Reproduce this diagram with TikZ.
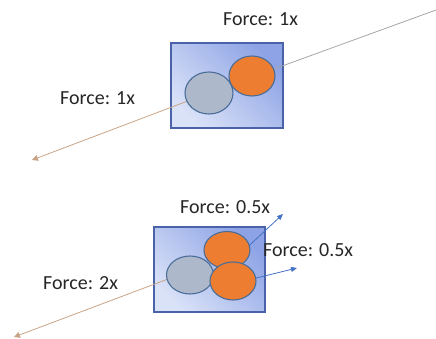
\documentclass[tikz,border=0pt]{standalone}
\usepackage{fontspec}
\setmainfont{Carlito}
\usetikzlibrary{arrows.meta,shapes.geometric}
\definecolor{boxlight}{HTML}{DAE2F8}
\definecolor{boxdark}{HTML}{8DA3E5}
\definecolor{boxborder}{HTML}{4A63A8}
\definecolor{ballgray}{HTML}{ADB9CA}
\definecolor{ballorange}{HTML}{ED7D31}
\definecolor{ballborder}{HTML}{4A6D98}
\definecolor{linegray}{HTML}{A6A6A6}
\definecolor{linetan}{HTML}{C9A487}
\definecolor{arrowblue}{HTML}{4472C4}
\definecolor{txt}{HTML}{262626}
\tikzset{
  boxstyle/.style={draw=boxborder, line width=1.1pt, top color=boxlight, bottom color=boxdark, shading angle=135},
  ball/.style={ellipse, draw=ballborder, line width=1.1pt, inner sep=0pt},
  grayball/.style={ball, fill=ballgray},
  orangeball/.style={ball, fill=ballorange},
  lbl/.style={anchor=base west, inner sep=0pt, font=\fontsize{20}{24}\selectfont, text=txt},
  tanarrow/.style={draw=linetan, line width=0.8pt, -{Triangle[length=6pt,width=6pt]}},
  grayline/.style={draw=linegray, line width=0.8pt},
  bluearrow/.style={draw=arrowblue, line width=0.8pt, -{Triangle[length=6pt,width=5pt]}},
}
\begin{document}
\begin{tikzpicture}[x=1pt,y=-1pt]
\useasboundingbox (0,0) rectangle (436,339);
% ---------- top scene ----------
\path[boxstyle] (171,43) rectangle (283,128);
\coordinate (t1) at (436,10);
\coordinate (t2) at (32,160);
\coordinate (tm) at (230,85);
\draw[grayline] (tm) -- (t1);
\draw[tanarrow] (tm) -- (t2);
\node[grayball, minimum width=48pt, minimum height=42pt] (g1) at (209,93) {};
\node[orangeball, minimum width=46pt, minimum height=40pt] (o1) at (252,76) {};
\node[lbl] (l1) at (223,26) {Force: 1x};
\node[lbl] (l2) at (60,105) {Force: 1x};
% ---------- bottom scene ----------
\path[boxstyle] (154,227) rectangle (265,312);
\coordinate (b0) at (200,267);
\coordinate (b1) at (14,337);
\coordinate (u0) at (238,256);
\coordinate (u1) at (283,214);
\coordinate (d0) at (240,282);
\coordinate (d1) at (297,268);
\draw[tanarrow] (b0) -- (b1);
\draw[bluearrow] (u0) -- (u1);
\draw[bluearrow] (d0) -- (d1);
\node[grayball, minimum width=47pt, minimum height=38pt] (g2) at (190,275) {};
\node[orangeball, minimum width=46pt, minimum height=37pt] (o2) at (227,250) {};
\node[orangeball, minimum width=46pt, minimum height=38pt] (o3) at (233,281) {};
\node[lbl] (l3) at (180,213) {Force: 0.5x};
\node[lbl] (l4) at (263,256) {Force: 0.5x};
\node[lbl] (l5) at (43,289) {Force: 2x};
\end{tikzpicture}
\end{document}
